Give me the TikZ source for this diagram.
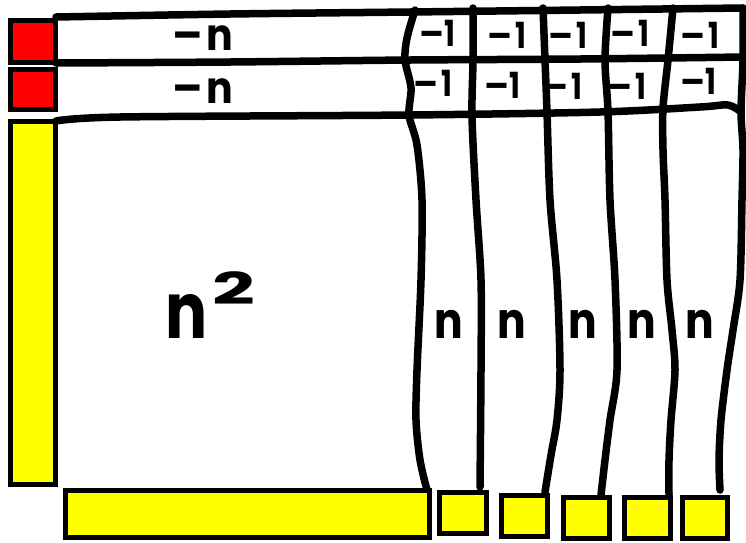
\documentclass[tikz,border=0pt]{standalone}
\usepackage{fontspec}
\setmainfont{Poppins}
\definecolor{boxred}{RGB}{255,0,0}
\definecolor{boxyellow}{RGB}{255,255,0}
\begin{document}
\begin{tikzpicture}[x=1pt,y=-1pt,line cap=round,line join=round]
\tikzset{
  box/.style={draw=black,line width=5pt,inner sep=0pt,outer sep=0pt,line cap=rect,line join=miter},
  redbox/.style={box,fill=boxred},
  yelbox/.style={box,fill=boxyellow},
  hand/.style={line width=7.5pt,draw=black},
  bigtxt/.style={font=\bfseries\fontsize{44}{50}\selectfont,inner sep=0pt},
  coltxt/.style={font=\bfseries\fontsize{50}{54}\selectfont,inner sep=0pt},
  onetxt/.style={font=\bfseries\fontsize{36}{38}\selectfont,inner sep=0pt},
}
\useasboundingbox (0,0) rectangle (746,542);
\fill[white] (0,0) rectangle (746,542);

% horizontal lines of the two top rows
\draw[hand] plot[smooth,tension=0.5] coordinates {(56,17) (230,14) (410,12) (580,10) (743,8)};
\draw[hand] plot[smooth,tension=0.5] coordinates {(56,63) (230,62) (410,60) (580,59) (743,57)};
\draw[hand] plot[smooth,tension=0.5] coordinates {(56,121) (120,117) (410,115) (600,112) (700,107) (728,105) (741,112)};

% column lines
\draw[hand] plot[smooth,tension=0.5] coordinates {(415,10) (407,38) (405,60) (411,88) (409,115) (417,145) (422,200) (421,280) (417,370) (416,420) (420,460) (427,490)};
\draw[hand] plot[smooth,tension=0.5] coordinates {(473,8) (473,60) (472,117) (476,200) (481,280) (481,370) (480,487)};
\draw[hand] plot[smooth,tension=0.5] coordinates {(543,8) (545,60) (547,112) (550,200) (557,280) (560,370) (557,420) (551,455) (545,492)};
\draw[hand] plot[smooth,tension=0.5] coordinates {(608,8) (605,60) (608,112) (610,200) (615,280) (617,370) (610,420) (605,460) (601,495)};
\draw[hand] plot[smooth,tension=0.5] coordinates {(673,8) (668,60) (663,108) (663,150) (665,200) (667,280) (672,330) (675,370) (671,420) (669,460) (669,494)};
\draw[hand] plot[smooth,tension=0.5] coordinates {(743,8) (743,60) (741,112) (743,150) (742,200) (740,280) (733,330) (727,370) (721,420) (719,460) (720,490)};

% boxes
\node[redbox,minimum width=45pt,minimum height=42pt] (red1) at (33,41) {};
\node[redbox,minimum width=45pt,minimum height=40pt] (red2) at (33,89.5) {};
\node[yelbox,minimum width=45pt,minimum height=363pt] (yel) at (33,303) {};
\node[yelbox,minimum width=364pt,minimum height=47pt] (bot) at (247.5,514) {};
\node[yelbox,minimum width=47pt,minimum height=41pt] (sq1) at (463,513) {};
\node[yelbox,minimum width=46pt,minimum height=41pt] (sq2) at (524.5,516) {};
\node[yelbox,minimum width=46pt,minimum height=41pt] (sq3) at (586.5,518) {};
\node[yelbox,minimum width=46pt,minimum height=41pt] (sq4) at (647.5,518) {};
\node[yelbox,minimum width=45pt,minimum height=41pt] (sq5) at (705,518) {};

% labels
\node[bigtxt] (mn1) at (203,38) {–\hspace{4pt}\scalebox{0.9}[1]{n}};
\node[bigtxt] (mn2) at (203,91) {–\hspace{4pt}\scalebox{0.9}[1]{n}};

\node[onetxt] (a1) at (437,33) {–\scalebox{0.8}[1]{1}};
\node[onetxt] (a2) at (507,35) {–\hspace{3pt}\scalebox{0.8}[1]{1}};
\node[onetxt] (a3) at (568,35) {–\hspace{3pt}\scalebox{0.8}[1]{1}};
\node[onetxt] (a4) at (630,33) {–\hspace{3pt}\scalebox{0.8}[1]{1}};
\node[onetxt] (a5) at (700,35) {–\hspace{3pt}\scalebox{0.8}[1]{1}};
\node[onetxt] (b1) at (433,83) {–\hspace{3pt}\scalebox{0.8}[1]{1}};
\node[onetxt] (b2) at (502,85) {–\scalebox{0.8}[1]{1}};
\node[onetxt] (b3) at (563,86) {–\hspace{3pt}\scalebox{0.8}[1]{1}};
\node[onetxt] (b4) at (627,86) {–\hspace{3pt}\scalebox{0.8}[1]{1}};
\node[onetxt] (b5) at (698,81) {–\scalebox{0.8}[1]{1}};

\node[coltxt] (n1) at (449,324) {\scalebox{0.85}[1]{n}};
\node[coltxt] (n2) at (512,324) {\scalebox{0.85}[1]{n}};
\node[coltxt] (n3) at (583,324) {\scalebox{0.85}[1]{n}};
\node[coltxt] (n4) at (642,324) {\scalebox{0.85}[1]{n}};
\node[coltxt] (n5) at (700,324) {\scalebox{0.85}[1]{n}};

\node[font=\bfseries\fontsize{78}{82}\selectfont,inner sep=0pt] (nsq) at (187,316) {\scalebox{0.8}[1]{n}};
\node[font=\bfseries\fontsize{44}{46}\selectfont,inner sep=0pt] (two) at (234,288) {\scalebox{1.7}[1]{2}};
\end{tikzpicture}
\end{document}
